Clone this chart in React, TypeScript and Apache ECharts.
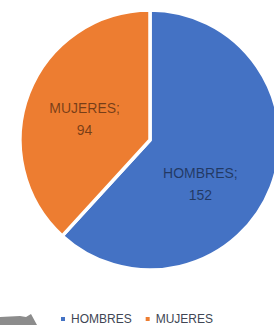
import React, { useEffect, useRef } from "react";
import * as echarts from "echarts";

const categories = ["HOMBRES", "MUJERES"];
const values = [152, 94];
const colors = ["#4472C4", "#ED7D31"];

export default function App() {
  const ref = useRef<HTMLDivElement>(null);
  useEffect(() => {
    if (!ref.current) return;
    const chart = echarts.init(ref.current, null, { renderer: "svg" });
    chart.setOption({
      animation: false,
      backgroundColor: "#ffffff",
      color: colors,
      legend: {
        data: categories,
        left: 54,
        top: 308,
        icon: "rect",
        itemWidth: 6,
        itemHeight: 6,
        itemGap: 12,
        textStyle: { fontSize: 12, color: "#404654", fontFamily: "Liberation Sans" },
      },
      series: [
        {
          type: "pie",
          center: [150, 140],
          radius: 130,
          startAngle: 90,
          clockwise: true,
          itemStyle: { borderColor: "#ffffff", borderWidth: 3.5 },
          label: {
            show: true,
            position: "inside",
            formatter: "{b};\n{c}",
            fontSize: 14,
            lineHeight: 22,
            fontFamily: "Liberation Sans",
            color: "rgba(0,0,0,0.5)",
          },
          labelLine: { show: false },
          labelLayout: (p: any) =>
            p.dataIndex === 0 ? { dx: -13, dy: 19 } : { dx: -2, dy: 4 },
          emphasis: { disabled: true },
          data: categories.map((c, i) => ({ name: c, value: values[i] })),
        },
      ],
      graphic: [
        {
          type: "polygon",
          shape: {
            points: [
              [0, 317],
              [20, 316],
              [26, 317],
              [31, 314],
              [37, 325],
              [0, 325],
            ],
          },
          style: { fill: "#8c8c8c" },
        },
      ],
    });
    return () => chart.dispose();
  }, []);
  return (
    <div
      ref={ref}
      style={{ position: "fixed", left: 0, top: 0, width: 274, height: 325 }}
    />
  );
}
